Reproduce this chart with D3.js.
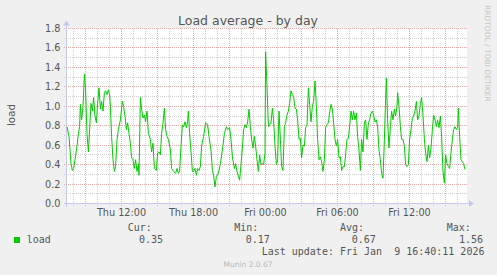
<!DOCTYPE html>
<html>
<head>
<meta charset="utf-8">
<script src="https://cdn.jsdelivr.net/npm/d3@7"></script>
<style>
  body { margin: 0; background: #f0f0f0; }
  svg { display: block; }
  text { font-family: "DejaVu Sans", sans-serif; fill: #555; }
  .mono { font-family: "DejaVu Sans Mono", monospace; font-size: 10px; }
</style>
</head>
<body>
<script>
///////////////////   Data   /////////////////

// minutes after Thu 07:30 (5 min per pixel), load average
var minutes = [
  0,10,20,27,33,40,50,57,63,67,73,80,87,93,100,107,113,120,127,133,140,147,153,160,167,173,180,187,193,200,
  207,213,217,223,230,237,243,250,257,267,277,283,290,297,303,310,317,323,330,337,343,350,357,360,367,373,380,387,393,400,
  407,417,423,430,437,447,453,460,467,473,480,487,493,500,507,517,523,533,543,550,557,563,570,577,583,590,597,603,607,613,
  620,627,633,640,647,653,660,667,673,683,693,703,710,720,727,733,740,747,757,767,777,787,797,803,813,820,827,837,843,850,
  857,863,870,877,883,890,897,903,910,917,923,930,937,943,950,957,963,970,977,983,990,
  993,1000,1007,1013,1020,1027,1033,1040,1047,1053,1060,1067,1073,1080,1087,1093,1100,1107,1113,1120,1127,1133,1140,1147,1153,
  1160,1167,1173,1180,1187,1193,1200,1207,1213,1220,1227,1233,1240,1247,1253,1260,1267,1273,1280,1287,1293,1300,1307,1313,1320,
  1327,1333,1340,1347,1353,1360,1367,1373,1380,1387,1393,1400,1407,1413,1420,1427,1433,1440,1447,1453,1460,1467,1473,1480,1487,
  1493,1500,1507,1513,1520,1527,1533,1540,1547,1553,1560,1567,1573,1580,1587,1593,1597,1603,1610,1617,1623,1630,1637,1643,1650,
  1653,1660,1667,1673,1680,1687,1693,1700,1707,1713,1720,1727,1733,1740,1747,1753,1760,1767,1773,1780,1787,1793,1800,1807,1813,
  1820,1827,1833,1840,1847,1853,1860,1867,1873,1880,1887,1893,1900,1907,1913,1920,1927,1933,1940,1947,1953,1957,1963,1970,1977,
  1983,1990
];
var load = [
  0.79,0.69,0.41,0.34,0.36,0.45,0.59,0.72,0.79,1.02,0.86,1.00,1.33,1.17,0.72,0.53,0.76,1.03,0.95,1.09,0.90,0.83,1.03,1.19,0.97,1.05,0.95,1.14,1.16,1.12,
  1.17,1.12,1.00,0.69,0.45,0.33,0.38,0.66,0.76,0.86,1.05,1.00,0.90,0.76,0.83,0.72,0.62,0.47,0.45,0.36,0.45,0.33,0.41,0.29,1.09,0.97,0.88,0.91,0.84,0.95,
  0.72,0.66,0.53,0.62,0.36,0.34,0.52,0.53,0.50,0.72,0.83,0.98,0.76,0.69,0.66,0.55,0.36,0.33,0.31,0.36,0.31,0.33,0.59,0.81,0.79,0.84,0.78,0.84,0.95,0.72,
  0.53,0.33,0.33,0.36,0.29,0.36,0.34,0.38,0.59,0.69,0.83,0.81,0.69,0.55,0.34,0.29,0.17,0.28,0.31,0.41,0.55,0.72,0.79,0.76,0.78,0.66,0.48,0.36,0.41,0.33,
  0.28,0.24,0.40,0.57,0.76,0.81,0.78,0.84,0.97,0.79,0.66,0.57,0.69,0.59,0.45,0.33,0.50,0.40,0.41,0.40,0.52,
  1.56,1.21,0.79,0.81,0.83,0.98,0.86,0.59,0.40,0.45,0.95,0.66,0.38,0.34,0.79,0.83,0.91,0.95,1.03,1.16,1.12,1.10,0.98,0.97,0.86,
  0.66,0.67,0.47,0.60,0.59,0.78,0.81,1.19,1.02,0.84,1.00,1.05,1.26,1.00,0.66,0.45,0.48,0.43,0.33,0.45,0.78,0.81,0.83,0.93,1.02,
  0.97,0.83,0.66,0.59,0.66,0.47,0.48,0.34,0.38,0.38,0.50,0.66,0.67,0.79,0.95,0.86,0.95,0.86,0.93,0.69,0.55,0.34,0.66,0.53,0.83,
  0.86,0.66,0.83,0.86,0.93,0.95,0.91,0.84,0.86,0.79,0.55,0.45,0.31,0.26,0.66,1.07,1.29,0.86,0.57,0.79,0.95,0.86,0.97,0.90,1.00,
  1.14,1.00,0.79,0.66,0.66,0.59,0.40,0.38,0.40,0.66,0.76,0.88,0.90,0.95,1.05,0.86,0.90,1.03,1.09,0.90,0.66,0.52,0.43,0.60,0.47,
  0.57,0.76,0.91,0.86,0.79,0.86,0.78,0.90,0.69,0.33,0.21,0.50,0.41,0.38,0.36,0.52,0.66,0.76,0.79,0.76,0.78,0.98,0.69,0.45,0.43,
  0.41,0.35
];

var legendHeaders = ["Cur:", "Min:", "Avg:", "Max:"];
var legendValues = ["0.35", "0.17", "0.67", "1.56"];
var seriesName = "load";
var lastUpdate = "Last update: Fri Jan  9 16:40:11 2026";

///////////////////   Layout   /////////////////

var W = 497, H = 275,
    plotLeft = 67, plotRight = 467, plotTop = 28.5, plotBottom = 203.5,
    lineColor = "#00cc00",
    minorGrid = "#d0d0d0",
    majorGrid = "#e8a8a8",
    axisColor = "#c4c8f0";

var start = new Date(2026, 0, 8, 7, 30),
    end = new Date(2026, 0, 9, 16, 50);

var x = d3.scaleTime().domain([start, end]).range([plotLeft, plotRight]);
var y = d3.scaleLinear().domain([0, 1.8]).range([plotBottom, plotTop]);

var svg = d3.select("body").append("svg")
    .attr("width", W)
    .attr("height", H);

svg.append("rect").attr("width", W).attr("height", H).attr("fill", "#f0f0f0");
svg.append("rect")
    .attr("x", plotLeft).attr("y", plotTop - 0.5)
    .attr("width", plotRight - plotLeft).attr("height", plotBottom - plotTop + 0.5)
    .attr("fill", "#fff");

var grid = svg.append("g").attr("shape-rendering", "crispEdges").attr("stroke-dasharray", "1,1");

// horizontal grid: minor every 0.1, major (labelled) every 0.2
d3.range(1, 19).forEach(function(i) {
    var v = i / 10, yy = Math.floor(y(v)) + 0.5;
    grid.append("line")
        .attr("x1", plotLeft - 3).attr("x2", plotRight)
        .attr("y1", yy).attr("y2", yy)
        .attr("stroke", i % 2 ? minorGrid : majorGrid);
});

// vertical grid: minor every hour, major every 3 hours
d3.timeHour.range(start, end).forEach(function(t) {
    var xx = Math.round(x(t)) + 0.5;
    grid.append("line")
        .attr("x1", xx).attr("x2", xx)
        .attr("y1", plotTop).attr("y2", plotBottom + 3)
        .attr("stroke", t.getHours() % 3 ? minorGrid : majorGrid);
});

// y labels
d3.range(0, 10).forEach(function(i) {
    var v = i * 0.2;
    svg.append("text")
        .attr("x", plotLeft - 6.5).attr("y", Math.floor(y(v)) + 3.8)
        .attr("text-anchor", "end")
        .style("font-size", "9.7px")
        .text(d3.format(".1f")(v));
});

// x labels every 6 hours
var fmt = d3.timeFormat("%a %H:%M");
d3.timeHour.range(start, end).filter(function(t) { return t.getHours() % 6 == 0; }).forEach(function(t) {
    svg.append("text")
        .attr("x", Math.round(x(t)) + 0.5).attr("y", 216)
        .attr("text-anchor", "middle")
        .style("font-size", "9.7px")
        .text(fmt(t));
});

// axes with arrows
svg.append("line")
    .attr("x1", plotLeft - 3).attr("x2", plotRight + 3)
    .attr("y1", plotBottom).attr("y2", plotBottom)
    .attr("stroke", axisColor).attr("shape-rendering", "crispEdges");
svg.append("line")
    .attr("x1", plotLeft - 0.5).attr("x2", plotLeft - 0.5)
    .attr("y1", plotBottom + 3).attr("y2", plotTop - 4)
    .attr("stroke", axisColor).attr("shape-rendering", "crispEdges");
svg.append("path")
    .attr("d", "M" + (plotRight + 2) + "," + (plotBottom - 3.5) + "L" + (plotRight + 7) + "," + plotBottom + "L" + (plotRight + 2) + "," + (plotBottom + 3.5) + "Z")
    .attr("fill", axisColor);
svg.append("path")
    .attr("d", "M" + (plotLeft - 4) + "," + (plotTop - 3) + "L" + (plotLeft - 0.5) + "," + (plotTop - 8) + "L" + (plotLeft + 3) + "," + (plotTop - 3) + "Z")
    .attr("fill", axisColor);

// the series
var points = minutes.map(function(m, i) {
    return { t: d3.timeMinute.offset(start, m), v: load[i] };
});
svg.append("path")
    .datum(points)
    .attr("fill", "none")
    .attr("stroke", lineColor)
    .attr("stroke-width", 1)
    .attr("d", d3.line().x(function(d) { return x(d.t); }).y(function(d) { return y(d.v); }));

// title and labels
svg.append("text")
    .attr("x", 248).attr("y", 24.5)
    .attr("text-anchor", "middle")
    .style("font-size", "12.5px")
    .text("Load average - by day");

svg.append("text")
    .attr("transform", "translate(14.5,115) rotate(-90)")
    .attr("text-anchor", "middle")
    .style("font-size", "10.3px")
    .text("load");

svg.append("text")
    .attr("transform", "translate(485,5) rotate(90)")
    .style("font-size", "7.5px")
    .style("fill", "#c4c4c4")
    .text("RRDTOOL / TOBI OETIKER");

// legend
var colHead = [127.7, 234.3, 340, 446.7],
    colVal = [139, 245.7, 351.7, 459];
legendHeaders.forEach(function(h, i) {
    svg.append("text").attr("class", "mono").attr("x", colHead[i]).attr("y", 231).text(h);
    svg.append("text").attr("class", "mono").attr("x", colVal[i]).attr("y", 243).text(legendValues[i]);
});
svg.append("rect")
    .attr("x", 14).attr("y", 237)
    .attr("width", 6).attr("height", 6)
    .attr("fill", lineColor);
svg.append("text").attr("class", "mono").attr("x", 26.7).attr("y", 243).text(seriesName);
svg.append("text").attr("class", "mono").attr("x", 261.7).attr("y", 255)
    .attr("xml:space", "preserve").style("white-space", "pre").text(lastUpdate);

svg.append("text")
    .attr("x", 248).attr("y", 267)
    .attr("text-anchor", "middle")
    .style("font-size", "7.5px")
    .style("fill", "#b8b8b8")
    .text("Munin 2.0.67");
</script>
</body>
</html>
